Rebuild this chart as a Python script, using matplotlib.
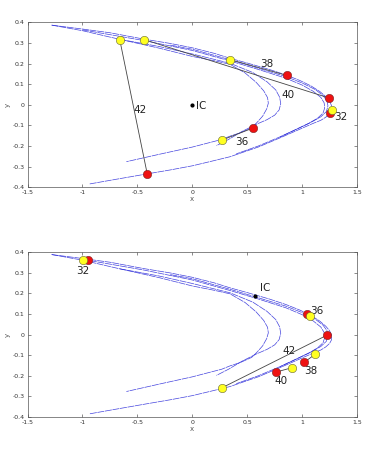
import numpy as np
import matplotlib
matplotlib.use('Agg')
import matplotlib.pyplot as plt

plt.rcParams['axes.unicode_minus'] = False
plt.rcParams['font.family'] = 'DejaVu Sans'

# attractor strands (x, y)
outer_x = [-1.28, -1.0, -0.75, -0.44, -0.2, 0.0, 0.2, 0.343, 0.5, 0.7, 0.853, 0.98, 1.08, 1.16, 1.215,
           1.25, 1.268, 1.268, 1.25, 1.215, 1.17, 1.10, 0.95, 0.8, 0.6, 0.343, 0.15, 0.0, -0.2, -0.42, -0.7, -0.934]
outer_y = [0.387, 0.368, 0.35, 0.319, 0.298, 0.277, 0.25, 0.226, 0.203, 0.172, 0.145, 0.118, 0.092, 0.065, 0.04,
           0.018, -0.005, -0.025, -0.043, -0.06, -0.075, -0.09, -0.125, -0.16, -0.205, -0.252, -0.277, -0.296,
           -0.316, -0.336, -0.362, -0.384]
outer2_x = [-1.0, -0.44, 0.0, 0.343, 0.6, 0.853, 1.0, 1.1, 1.17, 1.2, 1.205, 1.19, 1.14, 1.06, 0.95, 0.8, 0.6, 0.4]
outer2_y = [0.364, 0.312, 0.264, 0.213, 0.172, 0.129, 0.096, 0.066, 0.036, 0.01, -0.015, -0.04, -0.065, -0.09,
            -0.118, -0.155, -0.2, -0.238]
outer3_x = [-0.2, 0.0, 0.343, 0.6, 0.853, 1.0, 1.12, 1.19, 1.225, 1.235, 1.22, 1.17, 1.08, 0.95, 0.8]
outer3_y = [0.29, 0.27, 0.219, 0.178, 0.137, 0.106, 0.074, 0.045, 0.02, -0.005, -0.033, -0.058, -0.085, -0.118,
            -0.156]
middle_x = [-0.66, -0.3, 0.0, 0.343, 0.55, 0.68, 0.76, 0.795, 0.805, 0.79, 0.75, 0.68, 0.58, 0.45, 0.33, 0.22]
middle_y = [0.318, 0.283, 0.247, 0.202, 0.157, 0.112, 0.072, 0.037, 0.005, -0.025, -0.05, -0.072, -0.095, -0.13,
            -0.168, -0.198]
inner_x = [-1.28, -1.0, -0.75, -0.66, -0.3, 0.0, 0.2, 0.343, 0.48, 0.58, 0.65, 0.685, 0.692, 0.677, 0.64, 0.59,
           0.54, 0.44, 0.343, 0.268, 0.0, -0.3, -0.6]
inner_y = [0.387, 0.36, 0.329, 0.318, 0.275, 0.235, 0.214, 0.197, 0.155, 0.11, 0.068, 0.035, 0.008, -0.02, -0.055,
           -0.085, -0.111, -0.135, -0.152, -0.168, -0.205, -0.24, -0.276]
strands = [(outer_x, outer_y), (outer2_x, outer2_y), (outer3_x, outer3_y), (middle_x, middle_y), (inner_x, inner_y)]

# top panel: pairs (yellow point, red point, label, label position)
top_yellow_x = [-0.66, -0.44, 0.34, 0.27, 1.27]
top_yellow_y = [0.315, 0.317, 0.22, -0.171, -0.027]
top_red_x = [-0.41, 1.24, 0.86, 0.55, 1.25]
top_red_y = [-0.336, 0.034, 0.143, -0.113, -0.04]
top_labels = ['42', '40', '38', '36', '32']
top_label_x = [-0.48, 0.87, 0.68, 0.45, 1.35]
top_label_y = [-0.025, 0.05, 0.2, -0.178, -0.058]
top_ic = (0.0, 0.0)

# bottom panel
bot_yellow_x = [0.27, 0.905, 1.12, 1.075, -0.995]
bot_yellow_y = [-0.258, -0.161, -0.095, 0.092, 0.363]
bot_red_x = [1.227, 0.762, 1.02, 1.045, -0.947]
bot_red_y = [-0.003, -0.182, -0.134, 0.1, 0.36]
bot_labels = ['42', '40', '38', '36', '32']
bot_label_x = [0.88, 0.81, 1.08, 1.13, -1.0]
bot_label_y = [-0.081, -0.226, -0.176, 0.113, 0.307]
bot_ic = (0.568, 0.186)

fig = plt.figure(figsize=(3.67, 4.49), dpi=100)
ax1 = fig.add_axes([0.075, 0.583, 0.898, 0.367])
ax2 = fig.add_axes([0.075, 0.071, 0.898, 0.368])


def draw_panel(ax, yx, yy, rx, ry, labels, lx, ly, ic, ic_off):
    for sx, sy in strands:
        ax.plot(sx, sy, color='#2222d8', lw=0.5, alpha=0.85, ls=(0, (10, 1)))
    for i in range(len(labels)):
        ax.plot([yx[i], rx[i]], [yy[i], ry[i]], color='#444444', lw=0.6, zorder=3)
    ax.plot(rx, ry, 'o', ms=6, mfc='#ee1111', mec='#772222', mew=0.4, zorder=4)
    ax.plot(yx, yy, 'o', ms=6, mfc='#ffff22', mec='#666633', mew=0.4, zorder=5)
    for i in range(len(labels)):
        ax.text(lx[i], ly[i], labels[i], fontsize=7.5, ha='center', va='center', color='#222222')
    ax.plot(ic[0], ic[1], 'o', ms=2, color='black', zorder=6)
    ax.text(ic[0] + ic_off[0], ic[1] + ic_off[1], 'IC', fontsize=7.5, ha='left', va='center', color='#222222')
    ax.set_xlim(-1.5, 1.5)
    ax.set_ylim(-0.4, 0.4)
    ax.set_xticks([-1.5, -1, -0.5, 0, 0.5, 1, 1.5])
    ax.set_xticklabels(['-1.5', '-1', '-0.5', '0', '0.5', '1', '1.5'])
    ax.set_yticks(np.round(np.arange(-0.4, 0.41, 0.1), 1))
    ax.set_yticklabels(['-0.4', '-0.3', '-0.2', '-0.1', '0', '0.1', '0.2', '0.3', '0.4'])
    ax.tick_params(direction='in', length=2.5, width=0.4, labelsize=4.5, colors='#333333',
                   top=True, right=True, pad=2)
    for s in ax.spines.values():
        s.set_linewidth(0.5)
        s.set_color('#555555')
    ax.set_xlabel('x', fontsize=5, color='#555555', labelpad=1)
    ax.set_ylabel('y', fontsize=5, color='#555555', labelpad=1)


draw_panel(ax1, top_yellow_x, top_yellow_y, top_red_x, top_red_y, top_labels,
           top_label_x, top_label_y, top_ic, (0.03, -0.005))
draw_panel(ax2, bot_yellow_x, bot_yellow_y, bot_red_x, bot_red_y, bot_labels,
           bot_label_x, bot_label_y, bot_ic, (0.05, 0.04))

fig.savefig('out.png', dpi=100)
